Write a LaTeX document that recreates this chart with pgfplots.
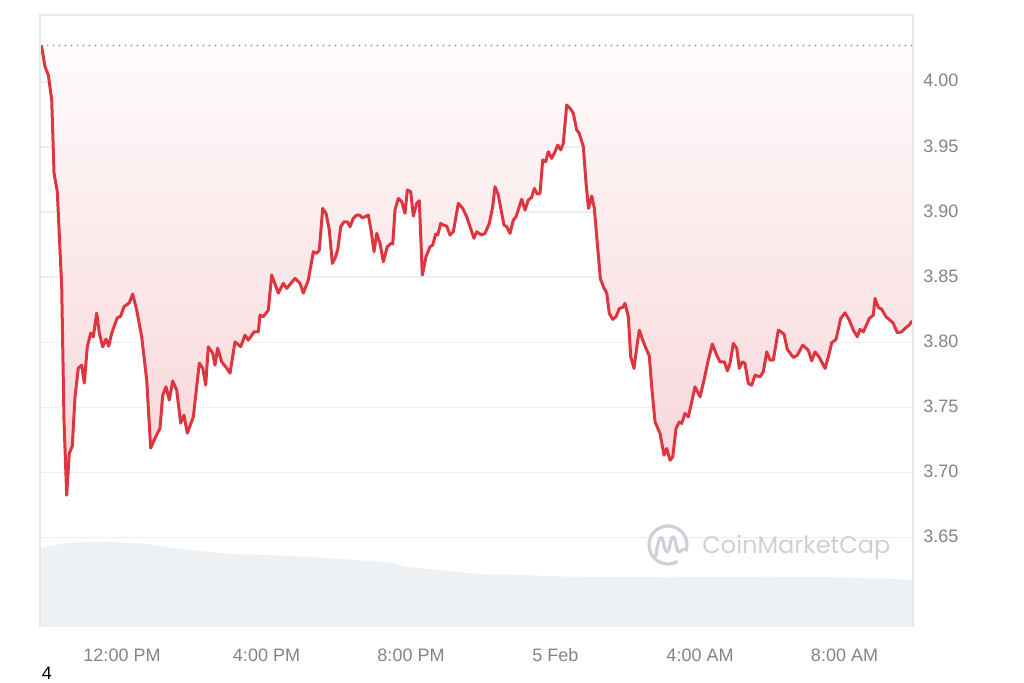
\documentclass[border=0pt]{standalone}
\usepackage{pgfplots}
\pgfplotsset{compat=1.18}
\usepackage{pgfplotstable}
\usepackage{fontspec}
\setmainfont{Liberation Sans}
\newfontfamily\wmfont{Poppins}
\definecolor{pricered}{RGB}{222,54,64}
\definecolor{gridc}{RGB}{236,239,242}
\definecolor{framec}{RGB}{229,231,235}
\definecolor{tickc}{RGB}{128,132,138}
\definecolor{volc}{RGB}{238,241,244}
\definecolor{wmc}{RGB}{205,209,215}
\definecolor{dotc}{RGB}{140,140,140}
\definecolor{filltop}{RGB}{254,251,251}
\definecolor{fillbot}{RGB}{247,212,216}

\pgfplotstableread{
x y
9.771 4.028
9.868 4.0118
9.960 4.0054
10.054 3.9862
10.118 3.930
10.209 3.9156
10.331 3.8425
10.394 3.740
10.469 3.6823
10.541 3.7146
10.624 3.720
10.699 3.7579
10.790 3.780
10.884 3.7823
10.956 3.7685
11.039 3.7964
11.134 3.8069
11.206 3.8041
11.300 3.8223
11.372 3.8069
11.466 3.7964
11.557 3.8023
11.632 3.7969
11.715 3.8069
11.870 3.8187
11.964 3.820
12.055 3.8272
12.202 3.8302
12.296 3.8369
12.407 3.8246
12.545 3.8041
12.684 3.7708
12.794 3.7185
12.914 3.7262
13.052 3.7338
13.127 3.7592
13.218 3.7656
13.309 3.7554
13.403 3.7702
13.514 3.7631
13.625 3.7377
13.716 3.7438
13.808 3.730
13.974 3.7425
14.140 3.7838
14.234 3.780
14.317 3.7669
14.389 3.7964
14.511 3.7915
14.574 3.7823
14.649 3.7954
14.760 3.7848
14.898 3.780
14.990 3.7762
15.128 3.8002
15.286 3.7964
15.405 3.8054
15.496 3.8015
15.654 3.8079
15.773 3.8079
15.820 3.8208
15.911 3.8195
16.050 3.8246
16.144 3.8515
16.327 3.8377
16.465 3.8452
16.559 3.8413
16.789 3.849
16.927 3.8452
17.019 3.8377
17.157 3.8477
17.296 3.8695
17.390 3.8682
17.462 3.8708
17.556 3.9028
17.647 3.899
17.739 3.8862
17.822 3.8605
17.896 3.8644
17.971 3.8708
18.054 3.8887
18.146 3.8925
18.237 3.8925
18.312 3.8887
18.403 3.8952
18.497 3.8977
18.569 3.8977
18.652 3.8956
18.727 3.8964
18.818 3.8977
18.893 3.8862
18.976 3.8695
19.051 3.8836
19.142 3.8759
19.233 3.8618
19.344 3.8733
19.446 3.8759
19.494 3.8754
19.557 3.9015
19.649 3.9105
19.743 3.9079
19.834 3.899
19.898 3.9169
19.992 3.9156
20.064 3.8969
20.158 3.9067
20.230 3.9087
20.313 3.8515
20.415 3.8656
20.526 3.8733
20.601 3.8746
20.684 3.8831
20.739 3.8823
20.822 3.8913
20.894 3.890
20.988 3.8892
21.080 3.8823
21.171 3.8848
21.310 3.9067
21.431 3.9028
21.542 3.8964
21.633 3.8887
21.744 3.8798
21.819 3.8848
21.957 3.8823
22.049 3.8836
22.168 3.8913
22.262 3.9041
22.325 3.9195
22.417 3.9131
22.511 3.899
22.575 3.890
22.649 3.8887
22.741 3.8836
22.832 3.8938
22.907 3.8964
23.064 3.9098
23.156 3.9015
23.247 3.9092
23.341 3.9113
23.413 3.9182
23.496 3.9138
23.571 3.9144
23.646 3.940
23.729 3.9387
23.801 3.9464
23.895 3.9413
23.986 3.9464
24.061 3.9515
24.144 3.9477
24.216 3.9528
24.310 3.9823
24.402 3.9798
24.493 3.9759
24.587 3.9631
24.659 3.9605
24.770 3.9502
24.845 3.9223
24.914 3.9028
25.003 3.9123
25.072 3.9035
25.149 3.8785
25.243 3.8485
25.343 3.8415
25.418 3.8377
25.490 3.8221
25.584 3.8175
25.675 3.8195
25.767 3.8259
25.860 3.8267
25.924 3.8298
26.016 3.8195
26.082 3.7887
26.173 3.7798
26.264 3.799
26.320 3.8092
26.414 3.8015
26.505 3.7952
26.597 3.7892
26.663 3.7656
26.755 3.7387
26.893 3.7298
27.004 3.7131
27.078 3.7182
27.170 3.7092
27.245 3.7118
27.336 3.7336
27.427 3.7387
27.494 3.7375
27.585 3.7452
27.677 3.7425
27.751 3.7515
27.862 3.7656
28.000 3.7579
28.111 3.7708
28.230 3.7862
28.341 3.7985
28.463 3.790
28.554 3.7848
28.673 3.7848
28.756 3.7779
28.831 3.7836
28.922 3.799
29.016 3.7952
29.088 3.7798
29.171 3.7848
29.246 3.7836
29.337 3.7682
29.431 3.7669
29.523 3.7746
29.661 3.7733
29.752 3.7772
29.847 3.7925
29.938 3.7862
30.029 3.7862
30.168 3.8092
30.325 3.8062
30.417 3.7944
30.583 3.7882
30.694 3.790
30.843 3.7977
30.998 3.7938
31.092 3.7856
31.184 3.7925
31.303 3.7882
31.461 3.7798
31.552 3.7887
31.646 3.7995
31.765 3.8021
31.895 3.8182
32.014 3.8225
32.133 3.8169
32.244 3.8092
32.355 3.8041
32.429 3.8098
32.521 3.8079
32.687 3.8182
32.797 3.8208
32.845 3.8336
32.936 3.8267
33.030 3.8252
33.149 3.8195
33.307 3.8157
33.351 3.8144
33.462 3.8072
33.584 3.8079
33.703 3.8113
33.794 3.8131
33.869 3.8164
}\price

\pgfplotstableread{
x v
9.730 79
10.505 84.3
11.585 85.3
12.692 83
13.135 80.3
14.076 76.3
14.990 73
15.903 72
17.121 70.3
18.228 67.7
19.419 64.3
19.889 60.3
20.886 56.3
21.910 53
23.100 52
24.402 50.3
27.170 49.7
29.938 50.3
31.793 49.7
33.537 47.7
33.896 47
}\volume

\begin{document}
\fontsize{9}{11}\selectfont
\begin{tikzpicture}
% volume axis
\begin{axis}[at={(0,0)}, anchor=south west, scale only axis,
  width=436.5pt, height=306pt,
  xmin=9.730, xmax=33.896, ymin=0, ymax=612,
  hide axis]
\addplot[draw=none, fill=volc] table[x=x,y=v] {\volume}
  -- (axis cs:33.896,0) -- (axis cs:9.730,0) -- cycle;
\end{axis}
% price axis
\begin{axis}[at={(0,0)}, anchor=south west, scale only axis,
  width=436.5pt, height=306pt,
  xmin=9.730, xmax=33.896, ymin=3.581, ymax=4.0515,
  axis line style={draw=none},
  major tick length=0pt,
  ymajorgrids, grid style={draw=gridc, line width=0.6pt},
  ytick={3.65,3.70,3.75,3.80,3.85,3.90,3.95,4.00},
  yticklabels={3.65,3.70,3.75,3.80,3.85,3.90,3.95,4.00},
  yticklabel pos=right,
  yticklabel style={anchor=west, xshift=2pt, yshift=0.6pt, text=tickc, font=\fontsize{9}{11}\selectfont},
  xtick={12,16,20,24,28,32},
  xticklabels={12:00 PM,4:00 PM,8:00 PM,5 Feb,4:00 AM,8:00 AM},
  xticklabel style={anchor=center, yshift=-14pt, text=tickc, font=\fontsize{9}{11}\selectfont},
  clip=false]
\addplot[draw=none, top color=filltop, bottom color=fillbot] table[x=x,y=y] {\price}
  -- (axis cs:33.869,4.028) -- (axis cs:9.771,4.028) -- cycle;
\addplot[dotc, line width=0.9pt, dash pattern=on 0pt off 3pt, line cap=round] coordinates {(9.771,4.028) (33.896,4.028)};
\addplot[pricered, line width=1.5pt, line join=round] table[x=x,y=y] {\price};
\end{axis}
\begin{scope}[x=0.5pt, y=-0.5pt, shift={(-20pt,313.5pt)}]
  \path[use as bounding box] (0,0) rectangle (1024,683);
  \draw[framec, line width=0.6pt] (40,627) -- (40,15) -- (913,15) -- (913,627);
  % watermark
  \draw[wmc, line width=1.6pt] (668,545) ++(60:19) arc[start angle=60, end angle=380, radius=19];
  \draw[wmc, line width=1.6pt, line join=round, line cap=round] (656,556) .. controls (658,540) and (660,536) .. (662,538) .. controls (664,541) and (664,552) .. (667,552) .. controls (670,552) and (670,537) .. (673,537) .. controls (676,537) and (676,552) .. (679,552) -- (684,549);
  \node[anchor=west, text=wmc, font=\wmfont\fontsize{12}{14}\selectfont, inner sep=0pt] at (702,547) {CoinMarketCap};
  \node[text=black, inner sep=0pt] at (47,673) {4};
\end{scope}
\end{tikzpicture}
\end{document}
